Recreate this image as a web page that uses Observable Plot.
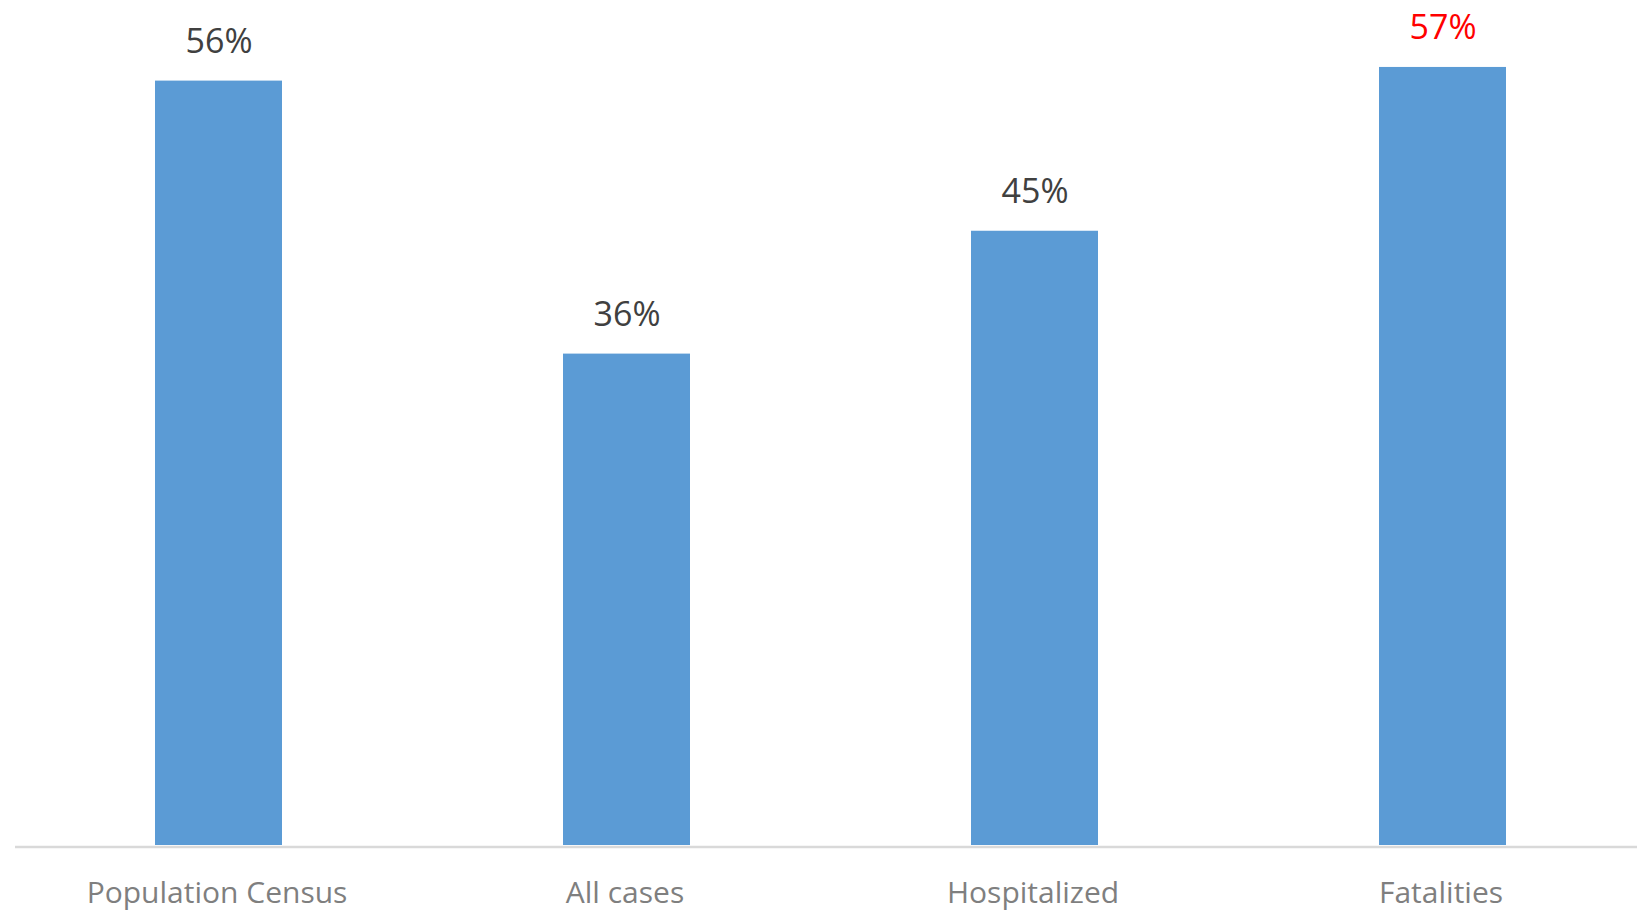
<!DOCTYPE html>
<html>
<head>
<meta charset="utf-8">
<script src="https://cdn.jsdelivr.net/npm/d3@7"></script>
<script src="https://cdn.jsdelivr.net/npm/@observablehq/plot@0.6"></script>
<style>
  html, body { margin: 0; padding: 0; background: #fff; }
  #chart svg { display: block; }
</style>
</head>
<body>
<div id="chart"></div>
<script>
const categories = ["Population Census", "All cases", "Hospitalized", "Fatalities"];
const values = [56, 36, 45, 57];
const labelColors = ["#404040", "#404040", "#404040", "#ff0000"];

const data = categories.map((c, i) => ({category: c, value: values[i], color: labelColors[i]}));

const chart = Plot.plot({
  width: 1637,
  height: 912,
  marginTop: 26,
  marginBottom: 67,
  marginLeft: 15,
  marginRight: 0,
  style: {fontFamily: "'Open Sans', sans-serif", background: "#fff"},
  x: {domain: categories, range: [14.5, 1646.5], paddingInner: 0.689, paddingOuter: 0.3445, axis: null},
  y: {domain: [0, 60], axis: null},
  marks: [
    Plot.barY(data, {x: "category", y: "value", fill: "#5b9bd5"}),
    Plot.ruleY([0], {stroke: "#d9d9d9", strokeWidth: 2.5, dy: 1.5}),
    Plot.text(data, {
      x: "category", y: "value", text: d => d.value + "%",
      fill: d => d.color, fontSize: 34, lineAnchor: "bottom", dy: -28
    }),
    Plot.text(data, {
      x: "category", y: () => 0, text: "category",
      fill: "#7f7f7f", fontSize: 30, lineAnchor: "bottom", dy: 57, dx: -2
    })
  ]
});
document.getElementById("chart").appendChild(chart);
</script>
</body>
</html>
